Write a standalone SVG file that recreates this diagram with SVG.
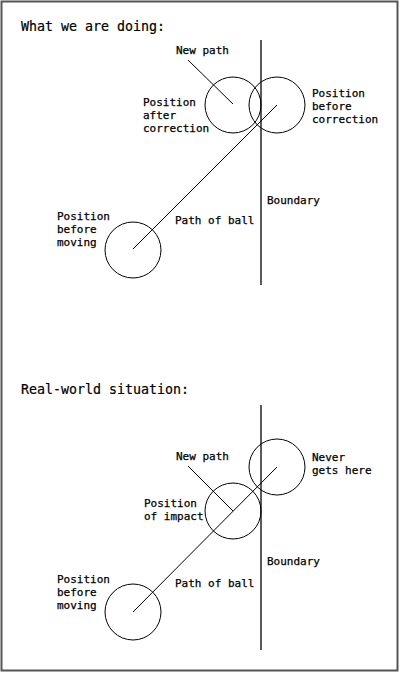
<svg xmlns="http://www.w3.org/2000/svg" width="400" height="673" viewBox="0 0 400 673">
<style>
.t{font-family:"DejaVu Sans Mono","Liberation Mono",monospace;font-size:11px;fill:#000;stroke:#000;stroke-width:0.25}
.h{font-family:"DejaVu Sans Mono","Liberation Mono",monospace;font-size:13.3px;fill:#000;stroke:#000;stroke-width:0.2}
.ln{stroke:#000;stroke-width:1;fill:none}
.b{stroke:#000;stroke-width:1.3;fill:none}
</style>
<rect x="1.5" y="1.5" width="396" height="669" fill="#fff" stroke="#555" stroke-width="2"/>
<g id="top">
<text class="h" x="21" y="31">What we are doing:</text>
<g id="connectors-top">
<line class="b" x1="261" y1="40" x2="261" y2="285"/>
<line class="ln" x1="133" y1="249" x2="277" y2="105"/>
<line class="ln" x1="188" y1="60" x2="233" y2="104"/>
</g>
<g id="ball-after-correction"><circle class="ln" cx="233" cy="105" r="28"/></g>
<g id="ball-before-correction"><circle class="ln" cx="277" cy="105" r="28"/></g>
<g id="ball-before-moving-top"><circle class="ln" cx="133" cy="250" r="28"/></g>
<text class="t" x="176" y="54">New path</text>
<text class="t" x="143" y="106">Position<tspan x="143" y="119">after</tspan><tspan x="143" y="132">correction</tspan></text>
<text class="t" x="312" y="97">Position<tspan x="312" y="110">before</tspan><tspan x="312" y="123">correction</tspan></text>
<text class="t" x="267" y="204">Boundary</text>
<text class="t" x="175" y="224">Path of ball</text>
<text class="t" x="57" y="220">Position<tspan x="57" y="233">before</tspan><tspan x="57" y="246">moving</tspan></text>
</g>
<g id="bottom">
<text class="h" x="21" y="394">Real-world situation:</text>
<g id="connectors-bottom">
<line class="b" x1="261" y1="405" x2="261" y2="650"/>
<line class="ln" x1="133" y1="612" x2="277" y2="467"/>
<line class="ln" x1="188" y1="466" x2="233" y2="511"/>
</g>
<g id="ball-never"><circle class="ln" cx="277" cy="467" r="28"/></g>
<g id="ball-impact"><circle class="ln" cx="233" cy="511" r="28"/></g>
<g id="ball-before-moving-bottom"><circle class="ln" cx="133" cy="612" r="28"/></g>
<text class="t" x="176" y="460">New path</text>
<text class="t" x="312" y="461">Never<tspan x="312" y="474">gets here</tspan></text>
<text class="t" x="144" y="507">Position<tspan x="144" y="520">of impact</tspan></text>
<text class="t" x="267" y="565">Boundary</text>
<text class="t" x="175" y="587">Path of ball</text>
<text class="t" x="57" y="583">Position<tspan x="57" y="596">before</tspan><tspan x="57" y="609">moving</tspan></text>
</g>
</svg>
